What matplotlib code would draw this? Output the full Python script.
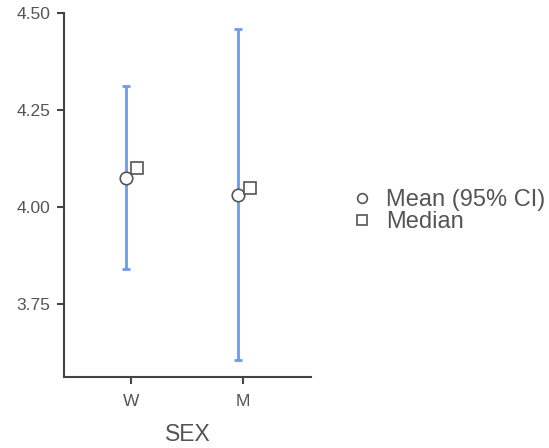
import matplotlib
matplotlib.use("Agg")
import matplotlib.pyplot as plt
import numpy as np

plt.rcParams["font.family"] = ["Liberation Sans", "DejaVu Sans"]

# -------- Data --------
groups = ["W", "M"]
means = [4.075, 4.031]
ci_low = [3.839, 3.606]
ci_high = [4.311, 4.459]
medians = [4.100, 4.049]

blue = "#6f9be8"
grey = "#555555"
axis_col = "#444444"

fig = plt.figure(figsize=(5.49, 4.48), dpi=100)
ax = fig.add_axes([0.1166, 0.1585, 0.4499, 0.8125])

x = np.arange(len(groups))
off_mean = -0.045
off_med = 0.058

means = np.array(means)
yerr = np.array([means - np.array(ci_low), np.array(ci_high) - means])

ax.errorbar(x + off_mean, means, yerr=yerr, fmt="none", ecolor=blue,
            elinewidth=2, capsize=3, capthick=2, zorder=2)
ax.plot(x + off_mean, means, linestyle="none", marker="o", markersize=9,
        markerfacecolor="white", markeredgecolor=grey, markeredgewidth=1.2,
        zorder=3, label="Mean (95% CI)")
ax.plot(x + off_med, medians, linestyle="none", marker="s", markersize=8,
        markerfacecolor="white", markeredgecolor=grey, markeredgewidth=1.2,
        zorder=3, label="Median")

ax.set_xlim(-0.598, 1.607)
ax.set_ylim(3.562, 4.50)
ax.set_xticks(x)
ax.set_xticklabels(groups)
ax.set_yticks([3.75, 4.00, 4.25, 4.50])
ax.set_yticklabels(["3.75", "4.00", "4.25", "4.50"])

ax.spines["top"].set_visible(False)
ax.spines["right"].set_visible(False)
for s in ["left", "bottom"]:
    ax.spines[s].set_color(axis_col)
    ax.spines[s].set_linewidth(1.5)
ax.tick_params(axis="both", colors=axis_col, width=1.5, length=5,
               labelsize=12.5, labelcolor=grey, pad=5)
ax.tick_params(axis="x", pad=7)

ax.set_xlabel("SEX", fontsize=16.5, color=grey, labelpad=10)

leg = ax.legend(loc="center left", bbox_to_anchor=(0.625, 0.528), bbox_transform=fig.transFigure,
                frameon=False, fontsize=17, handlelength=0.8, handletextpad=0.6,
                labelspacing=0.0, borderaxespad=0)
for h in leg.legend_handles:
    h.set_markersize(7)
for t in leg.get_texts():
    t.set_color(grey)

fig.savefig("out.png", dpi=100)
